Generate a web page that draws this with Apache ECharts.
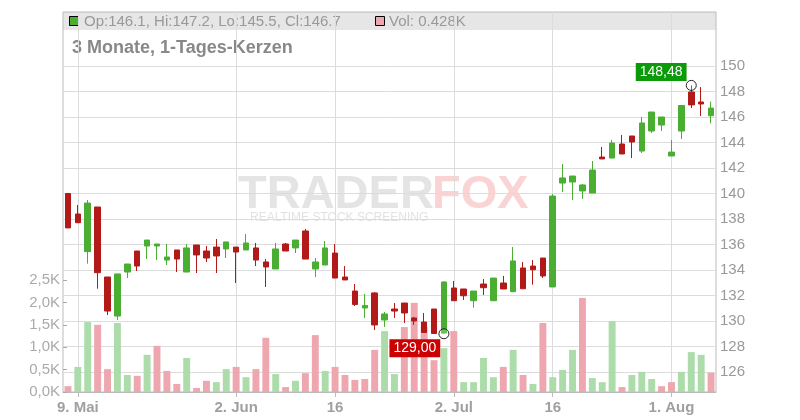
<!DOCTYPE html>
<html><head><meta charset="utf-8">
<script src="https://cdn.jsdelivr.net/npm/echarts/dist/echarts.min.js"></script>
<style>html,body{margin:0;padding:0;background:#fff}#c{width:800px;height:420px}</style>
</head><body><div id="c"></div>
<script>
const dates = [
 '2025-05-08','2025-05-09','2025-05-12','2025-05-13','2025-05-14','2025-05-15','2025-05-16',
 '2025-05-19','2025-05-20','2025-05-21','2025-05-22','2025-05-23','2025-05-26','2025-05-27',
 '2025-05-28','2025-05-29','2025-05-30',
 '2025-06-02','2025-06-03','2025-06-04','2025-06-05','2025-06-06','2025-06-09','2025-06-10',
 '2025-06-11','2025-06-12','2025-06-13','2025-06-16','2025-06-17','2025-06-18','2025-06-19',
 '2025-06-20','2025-06-23','2025-06-24','2025-06-25','2025-06-26','2025-06-27','2025-06-30',
 '2025-07-01','2025-07-02','2025-07-03','2025-07-04','2025-07-07','2025-07-08','2025-07-09',
 '2025-07-10','2025-07-11','2025-07-14','2025-07-15','2025-07-16','2025-07-17','2025-07-18',
 '2025-07-21','2025-07-22','2025-07-23','2025-07-24','2025-07-25','2025-07-28','2025-07-29',
 '2025-07-30','2025-07-31',
 '2025-08-01','2025-08-04','2025-08-05','2025-08-06','2025-08-07'
];
const opens = [140.0,138.39,135.44,138.94,133.45,130.39,133.84,135.49,135.88,135.88,
 134.78,135.57,133.84,135.96,135.49,135.80,135.65,135.80,135.57,135.73,
 134.63,134.08,136.04,135.73,137.06,134.08,134.39,135.33,133.45,132.35,
 131.02,132.20,130.08,130.94,131.41,130.24,129.92,130.94,129.05,132.59,
 132.51,131.59,132.90,131.59,132.98,132.30,134.16,134.31,134.94,132.67,
 140.82,140.90,140.20,140.04,142.86,142.78,143.88,144.51,143.33,144.90,
 145.37,142.94,144.90,147.96,147.18,146.1];
const closes = [137.3,137.71,139.25,133.79,130.78,133.69,134.47,134.31,136.35,136.04,
 135.02,134.86,135.73,135.18,134.94,135.10,136.20,135.41,136.12,134.78,
 134.24,135.65,135.49,136.35,134.86,134.63,135.73,133.37,133.22,131.30,
 131.22,129.69,130.55,130.78,130.63,130.00,129.10,129.02,133.06,131.59,
 131.98,132.35,132.61,133.37,132.51,134.71,132.53,134.02,133.53,139.80,
 141.22,141.37,140.67,141.84,142.71,143.96,143.10,144.04,145.53,146.39,
 146.00,143.25,146.90,146.95,147.02,146.7];
const lows = [137.3,137.7,134.5,132.53,130.47,130.08,133.37,133.92,134.86,134.78,
 134.39,133.84,133.84,133.76,134.63,133.76,134.94,132.98,135.57,134.31,
 132.67,134.08,135.49,135.33,134.86,133.45,134.39,133.37,133.22,131.18,
 130.24,129.29,129.53,130.24,129.84,129.69,129.06,129.02,129.00,131.59,
 131.65,131.05,132.04,131.59,132.51,132.30,132.53,132.85,133.37,132.67,
 140.12,139.49,139.57,140.04,142.71,142.78,143.10,142.78,143.18,144.75,
 144.90,142.94,144.27,146.70,146.08,145.5];
const highs = [140.05,139.1,139.49,138.94,133.45,133.69,134.47,135.49,136.35,136.04,
 136.04,135.57,136.04,135.96,135.88,136.43,136.20,135.80,136.82,136.12,
 134.86,136.12,136.12,136.35,137.22,134.94,136.27,136.04,134.31,132.90,
 132.12,132.27,130.71,131.41,131.41,130.31,130.63,130.94,133.10,133.14,
 132.51,132.35,133.29,133.37,133.53,135.80,134.63,134.78,134.94,139.96,
 142.31,141.37,140.75,142.55,143.65,144.20,144.59,144.51,146.00,146.39,
 146.00,144.20,146.90,148.48,148.35,147.2];
const volumes = [0.13,0.56,1.56,1.50,0.51,1.54,0.38,0.36,0.83,1.03,
 0.47,0.18,0.76,0.09,0.25,0.22,0.51,0.56,0.33,0.51,
 1.21,0.40,0.11,0.25,0.42,1.27,0.47,0.56,0.38,0.27,
 0.29,0.94,1.36,0.40,1.45,1.99,1.45,0.71,0.98,1.36,
 0.22,0.22,0.76,0.33,0.56,0.94,0.38,0.18,1.54,0.33,
 0.49,0.94,2.10,0.31,0.22,1.58,0.11,0.38,0.45,0.29,
 0.13,0.22,0.45,0.89,0.83,0.428];
const tickDates = ['2025-05-09','2025-06-02','2025-06-16','2025-07-02','2025-07-16','2025-08-01'];
const tickLabels = ['9. Mai','2. Jun','16','2. Jul','16','1. Aug'];
const titleText = '3 Monate, 1-Tages-Kerzen';

const FONT = '"Liberation Sans", Arial, sans-serif';
const UP = '#4aae32', DOWN = '#b21a1a', VOL_UP = '#acdcaa', VOL_DOWN = '#efa7af';
const tickIdx = tickDates.map(d => dates.indexOf(d));
const isTick = (i) => tickIdx.indexOf(i) >= 0;
const last = dates.length - 1;

const candleData = dates.map((d, i) => [opens[i], closes[i], lows[i], highs[i]]);
const volData = volumes.map((v, i) => {
  const up = i === 0 ? closes[i] >= opens[i] : closes[i] >= closes[i - 1];
  return { value: v, itemStyle: { color: up ? VOL_UP : VOL_DOWN } };
});
let iMax = 0, iMin = 0;
highs.forEach((h, i) => { if (h > highs[iMax]) iMax = i; });
lows.forEach((l, i) => { if (l < lows[iMin]) iMin = i; });
const fmtDe = (v) => v.toFixed(2).replace('.', ',');

const chart = echarts.init(document.getElementById('c'));
chart.setOption({
  animation: false,
  textStyle: { fontFamily: FONT },
  grid: [
    { left: 63, right: 84, top: 12, bottom: 28, show: true, borderColor: '#bbb', borderWidth: 1, backgroundColor: 'transparent' },
    { left: 63, right: 84, top: 66, bottom: 48 },
    { left: 63, right: 84, top: 280, bottom: 28 }
  ],
  xAxis: [
    { gridIndex: 0, type: 'category', data: dates, boundaryGap: true,
      axisLine: { show: true, lineStyle: { color: '#bbb' } },
      axisTick: { show: true, alignWithLabel: true, interval: (i) => isTick(i), length: 5, lineStyle: { color: '#bbb' } },
      axisLabel: { interval: (i) => isTick(i), formatter: (d) => { const k = tickDates.indexOf(d); return k >= 0 ? tickLabels[k] : ''; },
        color: '#a0a0a0', fontWeight: 'bold', fontSize: 15, fontFamily: FONT, margin: 8 },
      splitLine: { show: true, alignWithLabel: true, interval: (i) => isTick(i), lineStyle: { color: '#dcdcdc' } } },
    { gridIndex: 1, type: 'category', data: dates, boundaryGap: true, show: false },
    { gridIndex: 2, type: 'category', data: dates, boundaryGap: true, show: false }
  ],
  yAxis: [
    { gridIndex: 0, type: 'value', show: false, min: 0, max: 1, splitLine: { show: false } },
    { gridIndex: 1, type: 'value', position: 'right', min: 126, max: 150, interval: 2,
      axisLine: { show: false }, axisTick: { show: false },
      axisLabel: { color: '#999', fontSize: 15, fontFamily: FONT, margin: 4 },
      splitLine: { show: true, lineStyle: { color: '#dcdcdc' } } },
    { gridIndex: 2, type: 'value', position: 'left', min: 0, max: 2.5, interval: 0.5,
      axisLine: { show: false },
      axisTick: { show: true, inside: true, length: 4, lineStyle: { color: '#aaa' } },
      axisLabel: { color: '#aaa', fontSize: 15, fontFamily: FONT, margin: 3,
        formatter: (v) => v.toFixed(1).replace('.', ',') + 'K' },
      splitLine: { show: false } }
  ],
  series: [
    { type: 'bar', xAxisIndex: 2, yAxisIndex: 2, data: volData, barWidth: '70%' },
    { type: 'candlestick', xAxisIndex: 1, yAxisIndex: 1, data: candleData, barWidth: 6,
      itemStyle: { color: UP, color0: DOWN, borderColor: UP, borderColor0: DOWN, borderWidth: 1 },
      markPoint: {
        symbol: 'circle', symbolSize: 10,
        itemStyle: { color: 'rgba(255,255,255,0.2)', borderColor: '#222', borderWidth: 1 },
        data: [
          { coord: [dates[iMax], highs[iMax]], value: highs[iMax],
            label: { show: true, position: [-50, -17], formatter: () => fmtDe(highs[iMax]),
              backgroundColor: '#0a9a0a', color: '#fff', fontSize: 14, fontFamily: FONT, padding: [2, 4], lineHeight: 14 } },
          { coord: [dates[iMin], lows[iMin]], value: lows[iMin],
            label: { show: true, position: [-49, 11], formatter: () => fmtDe(lows[iMin]),
              backgroundColor: '#cc0000', color: '#fff', fontSize: 14, fontFamily: FONT, padding: [2, 4], lineHeight: 14 } }
        ]
      } }
  ],
  graphic: [
    { type: 'rect', z: -10, silent: true, shape: { x: 63, y: 12, width: 653, height: 18 }, style: { fill: '#e6e6e6' } },
    { type: 'text', z: -9, silent: true, x: 238, y: 195, style: { text: 'TRADER', fontSize: 47, fontWeight: 'bold', fontFamily: FONT, fill: '#e4e4e4', verticalAlign: 'middle' } },
    { type: 'text', z: -9, silent: true, x: 432, y: 195, style: { text: 'FOX', fontSize: 47, fontWeight: 'bold', fontFamily: FONT, fill: '#fad4d4', verticalAlign: 'middle' } },
    { type: 'text', z: -9, silent: true, x: 250, y: 218, style: { text: 'REALTIME STOCK SCREENING', fontSize: 12, fontFamily: FONT, fill: '#e2e2e2', verticalAlign: 'middle' } },
    { type: 'rect', silent: true, shape: { x: 69.5, y: 16.5, width: 9, height: 9 }, style: { fill: UP, stroke: '#000', lineWidth: 1 } },
    { type: 'text', silent: true, x: 84, y: 21.5, style: { text: 'Op:' + opens[last].toFixed(1) + ', Hi:' + highs[last].toFixed(1) + ', Lo:' + lows[last].toFixed(1) + ', Cl:' + closes[last].toFixed(1),
      fontSize: 15, fontFamily: FONT, fill: '#999', verticalAlign: 'middle' } },
    { type: 'rect', silent: true, shape: { x: 375.5, y: 16.5, width: 9, height: 9 }, style: { fill: VOL_DOWN, stroke: '#000', lineWidth: 1 } },
    { type: 'text', silent: true, x: 389, y: 21.5, style: { text: 'Vol: ' + volumes[last].toFixed(3) + 'K',
      fontSize: 15, fontFamily: FONT, fill: '#999', verticalAlign: 'middle' } },
    { type: 'text', silent: true, x: 72, y: 48, style: { text: titleText, fontSize: 18, fontWeight: 'bold', fontFamily: FONT, fill: '#888', verticalAlign: 'middle' } }
  ]
});
</script>
</body></html>
